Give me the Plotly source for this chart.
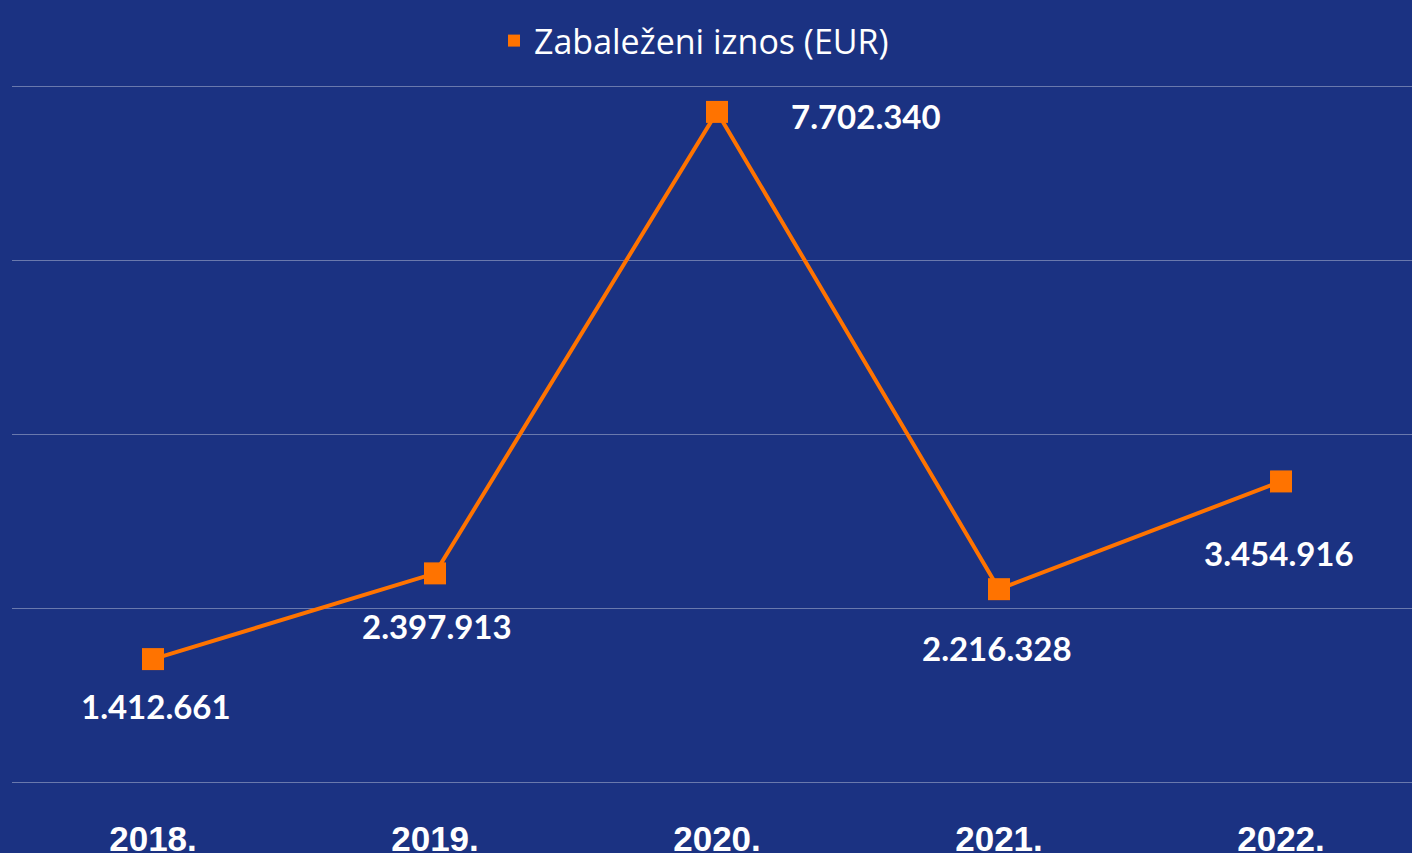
import plotly.graph_objects as go

years = ["2018.", "2019.", "2020.", "2021.", "2022."]
values = [1412661, 2397913, 7702340, 2216328, 3454916]
labels = ["1.412.661", "2.397.913", "7.702.340", "2.216.328", "3.454.916"]
series_name = "Zabaleženi iznos (EUR)"

# label offsets (pixels) relative to each point
label_xshift = [3, 2, 149, -2, -2]
label_yshift = [-47, -53, -4, -59, -72]

BG = "#1b3282"
ORANGE = "#ff7300"
GRID = "rgba(255,255,255,0.35)"

fig = go.Figure()
fig.add_trace(go.Scatter(
    x=years, y=values, mode="lines+markers",
    line=dict(color=ORANGE, width=4),
    marker=dict(symbol="square", size=22, color=ORANGE),
    showlegend=False, hoverinfo="skip",
))
fig.add_trace(go.Scatter(
    x=[None], y=[None], mode="markers", name=series_name,
    marker=dict(symbol="square", size=12, color=ORANGE),
))

for i, (v, lab, dx, dy) in enumerate(zip(values, labels, label_xshift, label_yshift)):
    fig.add_annotation(
        x=i, y=v, xref="x", yref="y", text=lab, showarrow=False,
        xshift=dx, yshift=dy,
        font=dict(family="Lato", size=33, color="white", weight="bold"),
    )

fig.update_layout(
    width=1412, height=853,
    paper_bgcolor=BG, plot_bgcolor=BG,
    margin=dict(l=12, r=0, t=82, b=71, autoexpand=False),
    legend=dict(
        orientation="h", xref="container", yref="container",
        x=0.4915, xanchor="center", y=1 - 41 / 853, yanchor="middle",
        font=dict(family="Open Sans", size=34, color="white"),
        itemsizing="constant", bgcolor="rgba(0,0,0,0)",
    ),
    xaxis=dict(
        type="category", range=[-0.5, 4.4645], automargin=False,
        showgrid=False, zeroline=False, showline=False,
        tickfont=dict(family="Liberation Sans", size=35, color="white", weight="bold"),
        ticks="", ticklabelstandoff=33,
    ),
    yaxis=dict(
        range=[0, 8045977], dtick=2000000, automargin=False,
        showgrid=True, gridcolor=GRID, gridwidth=1,
        zeroline=True, zerolinecolor=GRID, zerolinewidth=1,
        showticklabels=False, showline=False,
    ),
)

fig.write_html(
    "out.html",
    config={"displayModeBar": False},
    post_script="document.body.style.margin='0';document.body.style.background='%s';" % BG,
)
